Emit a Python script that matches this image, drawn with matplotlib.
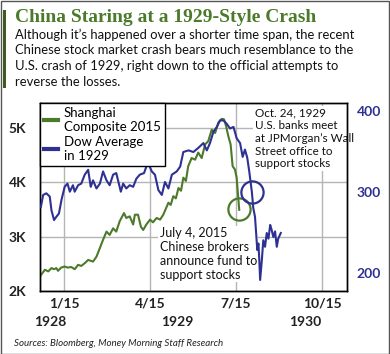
import matplotlib.pyplot as plt
import numpy as np

# x positions are months after the "1/15" tick (2015 timeline)
shanghai_x = [-0.81, -0.67, -0.55, -0.44, -0.35, -0.27, -0.21, -0.10, 0.02, 0.12, 0.25, 0.37,
              0.49, 0.60, 0.72, 0.84, 1.01, 1.13, 1.25, 1.36, 1.48, 1.59, 1.71, 1.82,
              1.94, 2.09, 2.17, 2.29, 2.41, 2.47, 2.58, 2.68, 2.76, 2.87, 3.00, 3.10,
              3.23, 3.35, 3.46, 3.64, 3.72, 3.81, 3.90, 3.99, 4.08, 4.16, 4.25, 4.33,
              4.45, 4.57, 4.68, 4.80, 4.92, 5.03, 5.15, 5.27, 5.38, 5.50, 5.58, 5.65,
              5.73, 5.81, 5.88, 5.96, 6.02, 6.11]
shanghai_k = [2.29, 2.39, 2.36, 2.42, 2.40, 2.42, 2.37, 2.43, 2.45, 2.43, 2.44, 2.40,
              2.48, 2.46, 2.51, 2.57, 2.54, 2.63, 2.79, 2.94, 3.09, 3.03, 3.15, 3.09,
              3.28, 3.43, 3.34, 3.37, 3.22, 3.40, 3.40, 3.18, 3.12, 3.22, 3.31, 3.26,
              3.34, 3.31, 3.40, 3.62, 3.58, 3.74, 3.70, 3.89, 3.84, 4.08, 4.02, 4.29,
              4.44, 4.41, 4.54, 4.44, 4.69, 4.75, 4.96, 4.90, 5.09, 5.16, 5.15, 5.03,
              4.84, 4.69, 4.29, 4.23, 4.08, 3.49]

dow_x = [-0.81, -0.73, -0.62, -0.50, -0.44, -0.35, -0.27, -0.18, -0.09, 0.02, 0.12, 0.20,
         0.31, 0.37, 0.49, 0.60, 0.72, 0.84, 0.93, 1.01, 1.13, 1.25, 1.36, 1.48,
         1.59, 1.71, 1.82, 1.98, 2.06, 2.17, 2.29, 2.41, 2.52, 2.64, 2.79, 2.87,
         2.94, 3.06, 3.17, 3.29, 3.41, 3.52, 3.64, 3.76, 3.93, 4.05, 4.16, 4.34,
         4.51, 4.68, 4.86, 4.98, 5.09, 5.21, 5.33, 5.44, 5.56, 5.67, 5.79, 5.91,
         6.02, 6.14, 6.23, 6.31, 6.39, 6.46, 6.55, 6.60, 6.66, 6.70, 6.74, 6.78,
         6.81, 6.84, 6.90, 6.95, 7.01, 7.07, 7.13, 7.19, 7.24, 7.30, 7.36, 7.42,
         7.47, 7.56]
dow_val = [281, 296, 298, 294, 277, 265, 269, 273, 290, 306, 310, 300,
           308, 300, 308, 310, 321, 327, 306, 314, 304, 310, 325, 314,
           308, 321, 323, 300, 310, 304, 308, 306, 316, 321, 323, 331,
           335, 325, 321, 302, 296, 312, 304, 321, 325, 331, 349, 351,
           349, 354, 360, 351, 360, 374, 380, 388, 388, 384, 378, 380,
           366, 360, 343, 352, 342, 325, 300, 280, 269, 249, 228, 236,
           216, 191, 216, 240, 232, 249, 242, 259, 253, 244, 251, 232,
           242, 249]

tick_pos = [0, 3, 6, 9]
tick_labels = ['1/15', '4/15', '7/15', '10/15']
year_pos = [-0.49, 3.94, 8.41]
year_labels = ['1928', '1929', '1930']

GREEN = '#4b7a2b'
BLUE = '#2e3192'
SANS = 'Lato'

fig = plt.figure(figsize=(3.9, 3.54), dpi=100)
ax = fig.add_axes([40 / 390, 63 / 354, 307 / 390, 188 / 354])
ax2 = ax.twinx()

ax.set_xlim(-0.84, 9.87)
ax.set_ylim(2.0, 5.45)
ax2.set_ylim(177.4, 409.5)

ax.set_yticks([2, 3, 4, 5])
ax.set_yticklabels(['2K', '3K', '4K', '5K'], fontfamily=SANS, fontweight='bold', fontsize=10, color='#222222')
ax2.set_yticks([200, 300, 400])
ax2.set_yticklabels(['200', '300', '400'], fontfamily=SANS, fontweight='bold', fontsize=10, color=BLUE)
ax.set_xticks(tick_pos)
ax.set_xticklabels(tick_labels, fontfamily=SANS, fontweight='bold', fontsize=10, color='#222222')
ax.tick_params(axis='y', length=0, pad=10)
ax2.tick_params(axis='y', length=0, pad=7)
ax.tick_params(axis='x', length=0, pad=5)

ax.grid(True, color='#b5b5b5', lw=1)
ax.set_axisbelow(True)

for sp in list(ax.spines.values()) + list(ax2.spines.values()):
    sp.set_color('black')
    sp.set_linewidth(1)

ln1, = ax.plot(shanghai_x, shanghai_k, color=GREEN, lw=1.5, zorder=3)
ln2, = ax2.plot(dow_x, dow_val, color=BLUE, lw=1.5, zorder=3)

# event circles
ax.plot(shanghai_x[-1], shanghai_k[-1] + 0.02, 'o', ms=16, mfc='none', mec=GREEN, mew=1.6, zorder=4)
ax2.plot(6.55, np.interp(6.55, dow_x, dow_val), 'o', ms=16, mfc='none', mec=BLUE, mew=1.6, zorder=4)

for xp, lab in zip(year_pos, year_labels):
    ax.text(xp, -0.165, lab, transform=ax.get_xaxis_transform(), ha='center', va='center',
            fontfamily=SANS, fontweight='bold', fontsize=10, color='#222222')

box = dict(fc='white', ec='none', pad=1)
ax.text(0.70, 0.975, "Oct. 24, 1929\nU.S. banks meet\nat JPMorgan\u2019s Wall\nStreet office to\nsupport stocks",
        transform=ax.transAxes, ha='left', va='top', fontfamily=SANS, fontsize=8.4,
        linespacing=1.18, color='#111111', bbox=box, zorder=2)
ax.text(0.39, 0.34, "July 4, 2015\nChinese brokers\nannounce fund to\nsupport stocks",
        transform=ax.transAxes, ha='left', va='top', fontfamily=SANS, fontsize=9,
        linespacing=1.2, color='#111111', bbox=box, zorder=2)

leg = ax2.legend([ln1, ln2], ['Shanghai\nComposite 2015', 'Dow Average\nin 1929'],
                 loc='upper left', bbox_to_anchor=(0, 1), borderaxespad=0,
                 prop={'family': SANS, 'size': 9.5}, handlelength=1.1, handletextpad=0.4,
                 fancybox=False, framealpha=1, edgecolor='black', labelspacing=0.2,
                 borderpad=0.3)
leg.get_frame().set_linewidth(1)
for h in leg.legend_handles:
    h.set_linewidth(3)

fig.text(15 / 390, 1 - 17 / 354, 'China Staring at a 1929-Style Crash', fontfamily='Liberation Serif',
         fontweight='bold', fontsize=14, color=GREEN, va='center', ha='left')
sub = ["Although it\u2019s happened over a shorter time span, the recent",
       "Chinese stock market crash bears much resemblance to the",
       "U.S. crash of 1929, right down to the official attempts to",
       "reverse the losses."]
for i, s in enumerate(sub):
    fig.text(15 / 390, 1 - (39 + i * 15.5) / 354, s, fontfamily=SANS, fontsize=9.4,
             color='#111111', va='baseline', ha='left')
fig.text(14 / 390, 1 - 343 / 354, 'Sources: Bloomberg, Money Morning Staff Research', fontfamily=SANS,
         fontstyle='italic', fontsize=7, color='#222222', va='center', ha='left')

# outer frame and accent bar
fig.add_artist(plt.Rectangle((0.5 / 390, 0.5 / 354), 388.5 / 390, 352.5 / 354, transform=fig.transFigure,
                             fill=False, ec='#555555', lw=1))
fig.add_artist(plt.Rectangle((3 / 390, 1 - 88 / 354), 2.5 / 390, 78 / 354, transform=fig.transFigure,
                             fc='#3f5a25', ec='none'))

fig.savefig('out.png', dpi=100)
